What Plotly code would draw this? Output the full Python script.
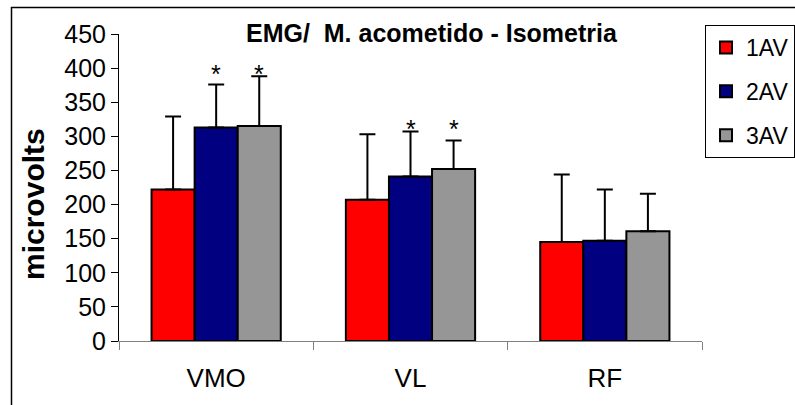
import plotly.graph_objects as go

# EMG amplitude (microvolts) per muscle and assessment
muscles = ["VMO", "VL", "RF"]
series_names = ["1AV", "2AV", "3AV"]
means_1av = [222, 207, 145]
means_2av = [313, 241, 147]
means_3av = [315, 252, 161]
sd_1av = [107, 96, 99]
sd_2av = [63, 66, 75]
sd_3av = [73, 42, 55]
# asterisks mark significant differences: (muscle index, series index)
significant = [(0, 1), (0, 2), (1, 1), (1, 2)]
# height of the asterisk row above each muscle group
asterisk_level = [399, 318, None]
y_ticks = [0, 50, 100, 150, 200, 250, 300, 350, 400, 450]

colors = ["#FF0000", "#000080", "#969696"]
means = [means_1av, means_2av, means_3av]
sds = [sd_1av, sd_2av, sd_3av]

SANS = "Liberation Sans, Arial, sans-serif"

W, H = 795, 405
L, R, T, B = 119, 93, 34, 64
plot_w = W - L - R
plot_h = H - T - B

fig = go.Figure()
for i, name in enumerate(series_names):
    fig.add_trace(go.Bar(
        x=muscles, y=means[i], name=name,
        legendgroup=name,
        marker=dict(color=colors[i], line=dict(color="black", width=2)),
        error_y=dict(type="data", array=sds[i], arrayminus=[0] * len(muscles),
                     symmetric=False, color="black", thickness=2, width=8),
    ))

# bar width in pixels, for placing asterisks over the side bars
bargap = 0.335
cat_px = plot_w / len(muscles)
bar_px = cat_px * (1 - bargap) / len(series_names)

annotations = []
for (m, s) in significant:
    annotations.append(dict(
        x=muscles[m], y=asterisk_level[m], xref="x", yref="y",
        text="*", showarrow=False, yanchor="middle", yshift=-5,
        xshift=(s - 1) * bar_px,
        font=dict(family=SANS, size=25, color="black"),
    ))

annotations.append(dict(
    text="<b>EMG/  M. acometido - Isometria</b>",
    x=(432 - L) / plot_w, y=(H - B - 33) / plot_h, xref="paper", yref="paper",
    showarrow=False, xanchor="center", yanchor="middle",
    font=dict(family=SANS, size=25, color="black"),
))
annotations.append(dict(
    text="<b>microvolts</b>", textangle=-90,
    x=(33 - L) / plot_w, y=(H - B - 204) / plot_h, xref="paper", yref="paper",
    showarrow=False, xanchor="center", yanchor="middle",
    font=dict(family=SANS, size=30, color="black"),
))

fig.update_layout(
    width=W, height=H,
    margin=dict(l=L, r=R, t=T, b=B, pad=0, autoexpand=False),
    paper_bgcolor="white", plot_bgcolor="white",
    barmode="group", bargap=bargap, bargroupgap=0,
    showlegend=True,
    legend=dict(
        x=(705 - L) / plot_w, y=(H - B - 25) / plot_h,
        xanchor="left", yanchor="top",
        bgcolor="white", bordercolor="black", borderwidth=1,
        font=dict(family=SANS, size=23, color="black"),
        traceorder="grouped", tracegroupgap=11,
    ),
    xaxis=dict(
        range=[-0.5, 2.5], showgrid=False, showline=True, linecolor="#808080",
        linewidth=1, ticks="outside", tickson="boundaries", ticklen=8,
        tickcolor="#808080", tickwidth=1, ticklabelstandoff=14,
        tickfont=dict(family=SANS, size=26, color="black"),
    ),
    yaxis=dict(
        range=[0, 450], tickvals=y_ticks, showgrid=False, showline=True,
        linecolor="black", linewidth=1, ticks="outside", ticklen=7,
        tickcolor="black", tickwidth=1, zeroline=False,
        tickfont=dict(family=SANS, size=25, color="black"),
    ),
    annotations=annotations,
    shapes=[dict(
        type="rect", xref="paper", yref="paper",
        x0=(11.5 - L) / plot_w, y0=-1, x1=2, y1=(H - B - 7.5) / plot_h,
        line=dict(color="black", width=1.5), fillcolor="rgba(0,0,0,0)", layer="below",
    )],
)

fig.write_html("out.html")
